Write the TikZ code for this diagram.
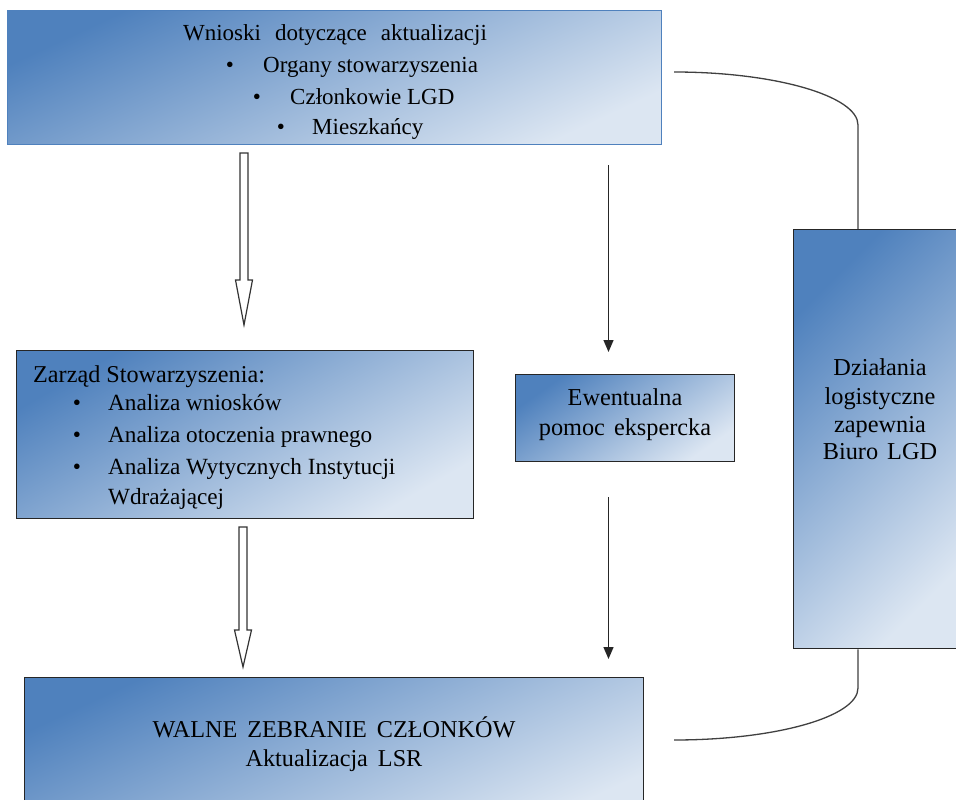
\documentclass[tikz,border=0pt]{standalone}
\usepackage{fontspec}
\setmainfont{Liberation Serif}
\usetikzlibrary{arrows.meta,calc}
\definecolor{gdark}{RGB}{79,129,189}
\definecolor{glight}{RGB}{220,230,242}
\definecolor{bordblue}{RGB}{79,129,189}
\newcommand\wordgap[1]{\spaceskip=#1\relax}
\tikzset{
  gbox/.style={draw=black!85, line width=1.4pt, top color=gdark, bottom color=glight, shading angle=#1, inner sep=0pt, anchor=north west},
  gbox/.default=45,
  txt/.style={inner sep=0pt, font=\fontsize{23pt}{28pt}\selectfont, text=black},
  ztxt/.style={inner sep=0pt, font=\fontsize{23.2pt}{28pt}\selectfont, text=black},
  btxt/.style={inner sep=0pt, font=\fontsize{24.3pt}{28pt}\selectfont, text=black},
  thinarrow/.style={line width=1.3pt, draw=black!85, -{Triangle[length=12pt,width=10pt]}},
  conn/.style={line width=1.3pt, draw=black!75},
  blockarrow/.style={draw=black!80, line width=1.2pt, fill=white, line join=miter}
}
\newcommand\blockarr[3]{\draw[blockarrow] ($(#1)+(-4,0)$) -- ($(#2)+(-4,-#3)$) -- ($(#2)+(-8.5,-#3)$) -- (#2) -- ($(#2)+(8.5,-#3)$) -- ($(#2)+(4,-#3)$) -- ($(#1)+(4,0)$) -- cycle;}
\begin{document}
\begin{tikzpicture}[x=1pt,y=-1pt]
\useasboundingbox (0,0) rectangle (956,800);
\clip (0,0) rectangle (956,800);
\fill[white] (0,0) rectangle (956,800);
% boxes
\node[gbox=25, draw=bordblue, line width=1.3pt, minimum width=654pt, minimum height=134pt] (top) at (7,10) {};
\node[gbox=30, minimum width=457pt, minimum height=168pt] (zarz) at (16,350) {};
\node[gbox=35, minimum width=219pt, minimum height=87pt] (ewent) at (515,374) {};
\node[gbox=45, minimum width=172pt, minimum height=419pt] (biuro) at (793,229) {};
\node[gbox=25, minimum width=619pt, minimum height=150pt] (walne) at (24,677) {};
% top box text
\node[txt, anchor=base] (t0) at (335,41) {\wordgap{14pt}Wnioski dotyczące aktualizacji};
\node[txt, anchor=base] (b1) at (230,72.5) {\textbullet};
\node[txt, anchor=base west] (t1) at (263,72.5) {Organy stowarzyszenia};
\node[txt, anchor=base] (b2) at (257,104.5) {\textbullet};
\node[txt, anchor=base west] (t2) at (290,104.5) {Członkowie LGD};
\node[txt, anchor=base] (b3) at (281,134.5) {\textbullet};
\node[txt, anchor=base west] (t3) at (312,134.5) {Mieszkańcy};
% zarzad text
\node[ztxt, font=\fontsize{24.2pt}{28pt}\selectfont, anchor=base west] (z0) at (33,382) {Zarząd Stowarzyszenia:};
\node[ztxt, anchor=base] (zb1) at (77,410) {\textbullet};
\node[ztxt, anchor=base west] (z1) at (108,410) {Analiza wniosków};
\node[ztxt, anchor=base] (zb2) at (77,442) {\textbullet};
\node[ztxt, anchor=base west] (z2) at (108,442) {Analiza otoczenia prawnego};
\node[ztxt, anchor=base] (zb3) at (77,474) {\textbullet};
\node[ztxt, anchor=base west] (z3) at (108,474) {Analiza Wytycznych Instytucji};
\node[ztxt, anchor=base west] (z4) at (108,504) {Wdrażającej};
% ewentualna
\node[btxt, anchor=base] (e1) at (625,405.5) {Ewentualna};
\node[btxt, anchor=base] (e2) at (625,435.5) {\wordgap{9pt}pomoc ekspercka};
% biuro
\node[btxt, anchor=base] (r1) at (880,375.5) {Działania};
\node[btxt, anchor=base] (r2) at (880,404.5) {logistyczne};
\node[btxt, anchor=base] (r3) at (880,432.5) {zapewnia};
\node[btxt, anchor=base] (r4) at (880,459.5) {\wordgap{9pt}Biuro LGD};
% walne
\node[btxt, font=\fontsize{24.2pt}{28pt}\selectfont, anchor=base] (w1) at (334,737) {\wordgap{10pt}WALNE ZEBRANIE CZŁONKÓW};
\node[btxt, font=\fontsize{24.2pt}{28pt}\selectfont, anchor=base] (w2) at (334,766) {\wordgap{10pt}Aktualizacja LSR};
% block arrows
\coordinate (a1s) at (244,153);
\coordinate (a1e) at (244,325);
\blockarr{a1s}{a1e}{45}
\coordinate (a2s) at (243,527);
\coordinate (a2e) at (243,667);
\blockarr{a2s}{a2e}{37}
% thin arrows
\coordinate (ta1) at (608.5,165);
\coordinate (ta1e) at (608.5,352);
\draw[thinarrow] (ta1) -- (ta1e);
\coordinate (ta2) at (608.5,497);
\coordinate (ta2e) at (608.5,659);
\draw[thinarrow] (ta2) -- (ta2e);
% connectors to biuro
\coordinate (c1) at (674,72);
\coordinate (bt) at ($(biuro.north west)+(65,0)$);
\coordinate (bb) at ($(biuro.south west)+(65,0)$);
\draw[conn] (c1) .. controls (775,72) and (858,96) .. (858,125) -- (bt);
\coordinate (c2) at (674,740);
\draw[conn] (bb) -- (858,688) .. controls (858,717) and (775,740) .. (c2);
\end{tikzpicture}
\end{document}
